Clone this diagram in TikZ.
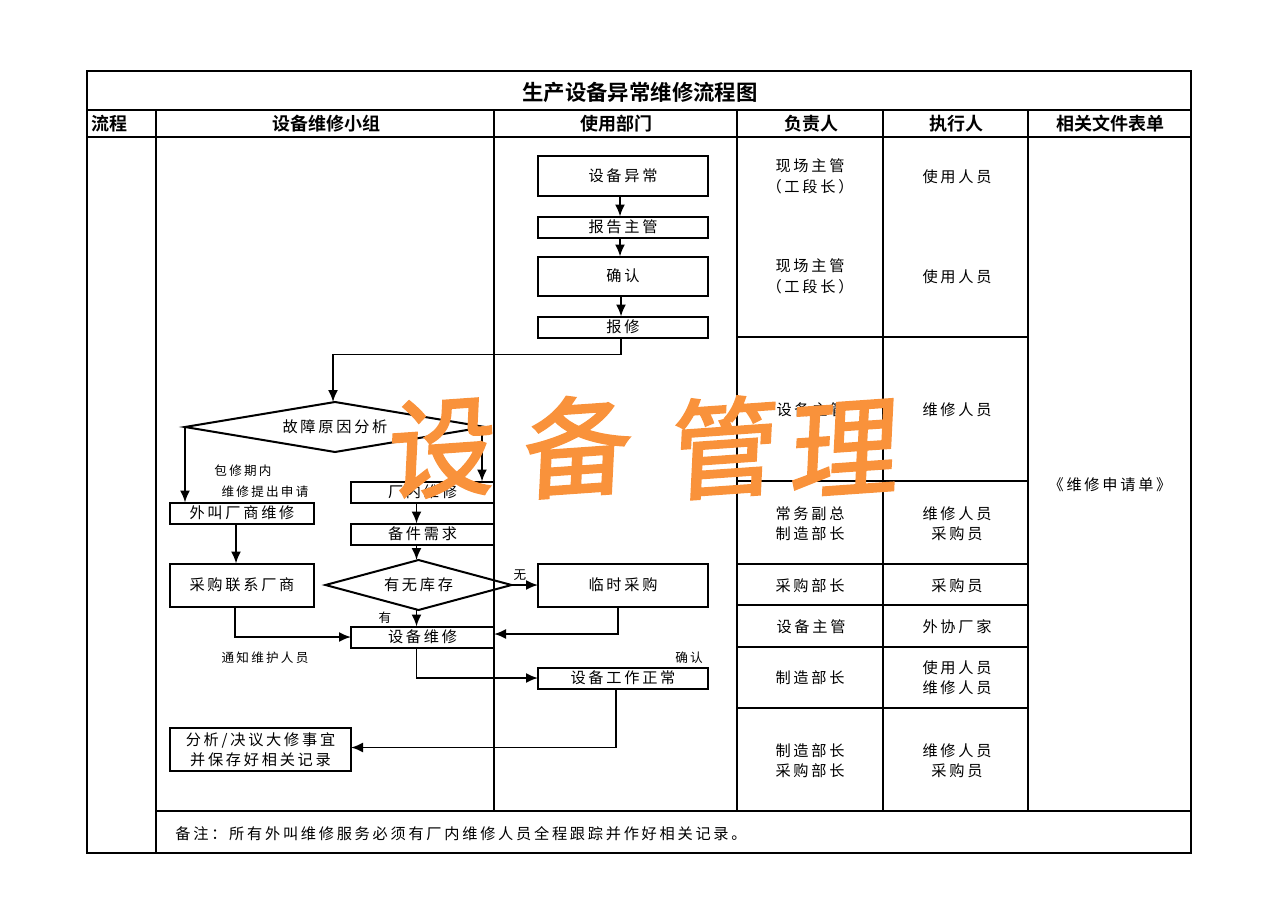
\documentclass[tikz,border=0pt]{standalone}
\usepackage{fontspec}
\setmainfont[LetterSpace=18]{Noto Sans CJK SC}
\newfontfamily\headfont[BoldFont = *]{Noto Sans CJK SC Bold}
\newfontfamily\brushfont[FakeBold = 2.2]{Noto Sans CJK SC}
\usetikzlibrary{arrows.meta, calc, shapes.geometric}
\definecolor{brushorange}{HTML}{F9923B}
\tikzset{
    >={Latex[length=6pt, width=5pt]},
    body/.style = {font = \fontsize{7.6}{10.1}\selectfont, align = center, inner sep = 0},
    cell/.style = {body, yshift = -.2pt},
    small/.style = {font = \fontsize{6.3}{8}\selectfont, align = center, inner sep = 0},
    head/.style = {font = \fontsize{9}{10}\selectfont\headfont, inner sep = 0},
    stepbox/.style = {body, draw, line width = 1pt, outer sep = 0},
    choice/.style = {body, draw, line width = 1pt, outer sep = 0, shape = diamond, aspect = 4},
    grid/.style = {black, line width = 1pt},
    link/.style = {black, line width = .9pt, ->},
    brush/.style = {font = \fontsize{54}{60}\selectfont\brushfont, text = brushorange, inner sep = 0,
        rotate = 4, xslant = .12, transform shape},
}
\begin{document}
\begin{tikzpicture}[x = .5pt, y = -.5pt]
    \useasboundingbox (0, 0) rectangle (1280, 904);

    \begin{scope}[local bounding box = table]
        \draw [grid, line width = 1.2pt] (87, 71) rectangle (1191, 853);
        \draw [grid] (87, 110) -- (1191, 110);
        \draw [grid] (87, 137) -- (1191, 137);
        \draw [grid] (156, 811) -- (1191, 811);
        \draw [grid] (156, 110) -- (156, 853);
        \draw [grid, line width = .7pt] (494, 110) -- (494, 811);
        \draw [grid] (737, 110) -- (737, 811);
        \draw [grid] (883, 110) -- (883, 811);
        \draw [grid] (1028, 110) -- (1028, 811);

        \draw [grid] (737, 337) -- (1028, 337);
        \draw [grid] (737, 481) -- (1028, 481);
        \draw [grid] (737, 564) -- (1028, 564);
        \draw [grid, line width = .6pt] (737, 605) -- (1028, 605);
        \draw [grid] (737, 647) -- (1028, 647);
        \draw [grid] (737, 708) -- (1028, 708);
    \end{scope}

    % header
    \node [head, font = \fontsize{10.7}{12}\selectfont\headfont] (title) at (640, 92) {生产设备异常维修流程图};
    \node [head] (headflow)  at (109, 124)  {流程};
    \node [head] (headteam)  at (326, 124)  {设备维修小组};
    \node [head] (headuser)  at (616, 124)  {使用部门};
    \node [head] (headlead)  at (811, 124)  {负责人};
    \node [head] (headexec)  at (956, 124)  {执行人};
    \node [head] (headfiles) at (1110, 124) {相关文件表单};

    % user department
    \node [stepbox, minimum width = 85pt, minimum height = 20pt]   (fault)   at (623, 176) {设备异常};
    \node [stepbox, minimum width = 85pt, minimum height = 10.5pt] (report)  at (623, 227) {报告主管};
    \node [stepbox, minimum width = 85pt, minimum height = 19.5pt] (confirm) at (623, 276) {确认};
    \node [stepbox, minimum width = 85pt, minimum height = 10.5pt] (request) at (623, 327) {报修};
    \node [stepbox, minimum width = 85pt, minimum height = 21.5pt] (tempbuy) at (623, 585) {临时采购};
    \node [stepbox, minimum width = 85pt, minimum height = 10.5pt] (normal)  at (623, 678) {设备工作正常};

    % repair team
    \node [choice, minimum width = 150pt, minimum height = 25pt] (cause) at (335, 427) {故障原因分析};
    \node [stepbox, minimum width = 72pt, minimum height = 10.5pt] (outside)  at (242, 513) {外叫厂商维修};
    \node [stepbox, minimum width = 71.5pt, minimum height = 10.5pt] (inside) at (422.5, 492) {厂内维修};
    \node [stepbox, minimum width = 71.5pt, minimum height = 10.5pt] (spare)  at (422.5, 534) {备件需求};
    \node [choice, minimum width = 93pt, minimum height = 25pt] (stock) at (418.5, 585) {有无库存};
    \node [stepbox, minimum width = 72pt, minimum height = 21.5pt] (vendor)   at (242, 585) {采购联系厂商};
    \node [stepbox, minimum width = 71.5pt, minimum height = 10.5pt] (repair) at (422.5, 637) {设备维修};
    \node [stepbox, minimum width = 90.5pt, minimum height = 21.5pt] (record) at (260.5, 749.5) {分析/决议大修事宜\\并保存好相关记录};

    % labels
    \node [small] (warranty) at (243, 471) {包修期内};
    \node [small] (apply)    at (265, 492) {维修提出申请};
    \node [small] (notify)   at (265, 658) {通知维护人员};
    \node [small] (hasno)    at (520, 575) {无};
    \node [small] (hasyes)   at (385, 618) {有};
    \node [small] (checked)  at (689, 658) {确认};

    % lines
    \draw [link] ([xshift = -1.5pt]fault.south) -- ([xshift = -1.5pt]report.north);
    \draw [link] ([xshift = -1.5pt]report.south) -- ([xshift = -1.5pt]confirm.north);
    \draw [link] ([xshift = -1pt]confirm.south) -- ([xshift = -1pt]request.north);
    \draw [link] ([xshift = -1pt]request.south) -- ++(0, 17) -| ([xshift = -1pt]cause.north);
    \draw [link] (cause.west) -- (cause.west |- outside.north);
    \draw [link] ([xshift = -1.5pt]cause.east) -- ([xshift = -1.5pt]cause.east |- inside.north);
    \draw [link] ([xshift = -3pt]inside.south) -- ([xshift = -3pt]spare.north);
    \draw [link] ([xshift = -3pt]spare.south) -- ([xshift = -1pt]stock.north);
    \draw [link] (stock.east) -- (tempbuy.west);
    \draw [link] ([xshift = -1pt]stock.south) -- ([xshift = -3pt]repair.north);
    \draw [link] ([xshift = -3pt]outside.south) -- ([xshift = -3pt]vendor.north);
    \draw [link] ([xshift = -3.5pt]vendor.south) |- (repair.west);
    \draw [link] ([xshift = -2.5pt]tempbuy.south) |- ([yshift = 1.5pt]repair.east);
    \draw [link] ([xshift = -3pt]repair.south) |- (normal.west);
    \draw [link] ([xshift = -3.5pt]normal.south) |- ([yshift = 1pt]record.east);

    % responsible
    \node [cell] (leadone)   at (810, 176) {现场主管\\（工段长）};
    \node [cell] (leadtwo)   at (810, 276) {现场主管\\（工段长）};
    \node [cell] (leadthree) at (811, 409) {设备主管};
    \node [cell] (leadfour)  at (810, 523) {常务副总\\制造部长};
    \node [cell] (leadfive)  at (810, 585) {采购部长};
    \node [cell] (leadsix)   at (811, 626) {设备主管};
    \node [cell] (leadseven) at (810, 677) {制造部长};
    \node [cell] (leadeight) at (810, 760) {制造部长\\采购部长};

    % executor
    \node [cell] (execone)   at (957, 176) {使用人员};
    \node [cell] (exectwo)   at (957, 276) {使用人员};
    \node [cell] (execthree) at (957, 409) {维修人员};
    \node [cell] (execfour)  at (957, 523) {维修人员\\采购员};
    \node [cell] (execfive)  at (957, 585) {采购员};
    \node [cell] (execsix)   at (957, 626) {外协厂家};
    \node [cell] (execseven) at (957, 677) {使用人员\\维修人员};
    \node [cell] (execeight) at (957, 760) {维修人员\\采购员};

    \node [cell] (form) at (1110, 484) {《维修申请单》};
    \node [cell, anchor = west] (note) at (175, 833) {备注：所有外叫维修服务必须有厂内维修人员全程跟踪并作好相关记录。};

    % watermark
    \node [brush] (markone)   at (442, 448) {设};
    \node [brush] (marktwo)   at (578, 446) {备};
    \node [brush] (markthree) at (725, 447) {管};
    \node [brush] (markfour)  at (845, 448) {理};
\end{tikzpicture}
\end{document}
